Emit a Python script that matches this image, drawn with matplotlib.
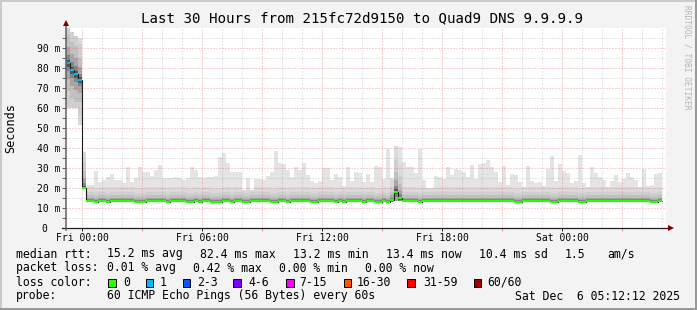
import numpy as np
import matplotlib.pyplot as plt
from matplotlib.patches import Rectangle

W, H = 697, 310
plt.rcParams['font.family'] = 'DejaVu Sans Mono'

# 12-minute bins, hours counted from Fri 00:00
bin_start = -0.8
bin_hours = 0.2

# highest ping in each bin, ms
top_ms = [
    100.0, 98.0, 96.0, 95.0,
    38.0, 21.5, 21.5, 28.5, 23.2, 24.0, 25.7, 27.0, 24.0, 24.0,
    22.7, 30.7, 23.2, 24.8, 30.7, 28.2, 27.8, 26.0, 29.0, 31.5,
    24.8, 24.8, 24.8, 25.7, 24.8, 24.0, 24.8, 30.3, 29.0, 25.7,
    24.8, 25.7, 25.7, 26.2, 35.7, 37.7, 32.7, 28.2, 28.2, 28.2,
    19.0, 25.2, 19.0, 24.5, 24.5, 24.0, 26.0, 28.2, 38.7, 32.3,
    32.0, 29.0, 25.7, 30.3, 29.0, 32.7, 26.5, 23.7, 22.3, 23.7,
    29.8, 30.2, 24.0, 27.0, 25.7, 21.0, 30.3, 23.7, 28.2, 27.3,
    23.2, 27.0, 23.2, 31.0, 30.7, 24.3, 39.5, 24.8, 41.0, 40.3,
    33.0, 30.3, 30.3, 27.7, 39.5, 24.0, 19.8, 19.8, 26.0, 25.7,
    24.3, 30.3, 26.5, 29.3, 29.0, 28.2, 25.7, 31.5, 24.3, 32.0,
    32.7, 34.0, 30.3, 28.2, 23.2, 31.0, 21.5, 27.0, 26.5, 23.2,
    20.3, 31.0, 23.5, 22.3, 23.2, 21.2, 29.5, 36.0, 23.5, 32.0,
    28.5, 27.3, 22.7, 23.7, 36.5, 22.7, 20.3, 30.3, 27.7, 25.7,
    24.0, 20.3, 23.5, 26.5, 22.8, 24.3, 27.7, 25.7, 24.0, 20.3,
    29.3, 21.0, 21.5, 27.0, 27.3,
]

# median rtt per bin, ms
median_ms = [
    82.4, 79.0, 76.8, 74.0, 20.0, 13.5, 13.5, 13.0, 13.5, 13.5,
    13.0, 13.5, 13.5, 13.5, 13.5, 13.5, 13.5, 13.0, 13.0, 13.0,
    13.5, 13.5, 13.5, 13.5, 13.5, 13.0, 13.5, 13.5, 13.5, 13.5,
    13.0, 13.0, 13.5, 13.0, 13.5, 13.5, 13.0, 13.0, 13.0, 13.5,
    13.5, 13.0, 13.5, 13.5, 13.0, 13.0, 13.5, 13.5, 13.5, 13.5,
    13.5, 13.0, 13.0, 13.5, 13.5, 13.0, 13.5, 13.5, 13.5, 13.5,
    13.5, 13.0, 13.0, 13.5, 13.5, 13.5, 13.5, 13.0, 13.5, 13.0,
    13.5, 13.5, 13.5, 13.5, 13.0, 13.5, 13.5, 13.0, 13.0, 13.5,
    13.0, 14.0, 18.2, 14.8, 13.5, 13.5, 13.5, 13.5, 13.0, 13.5,
    13.5, 13.5, 13.5, 13.5, 13.5, 13.5, 13.5, 13.5, 13.5, 13.5,
    13.5, 13.5, 13.5, 13.5, 13.5, 13.5, 13.5, 13.5, 13.5, 13.5,
    13.5, 13.5, 13.0, 13.0, 13.5, 13.5, 13.5, 13.5, 13.5, 13.5,
    13.5, 13.0, 13.0, 13.5, 13.5, 13.5, 13.5, 13.5, 13.0, 13.0,
    13.5, 13.5, 13.5, 13.5, 13.5, 13.5, 13.5, 13.5, 13.5, 13.5,
    13.5, 13.5, 13.5, 13.5, 13.5, 13.5, 13.0, 13.0, 13.5,
]

# bins with lost pings (all others 0)
lost_pings = {0: 1, 1: 1, 2: 1, 3: 1}
# lowest ping where it is not just under the median
low_ms = {0: 60.0, 1: 60.0, 2: 60.0, 3: 51.5, 4: 19.6, 81: 13.2, 82: 13.5, 83: 13.5}
# how wide the dark core of the smoke is
spread = {0: 5, 1: 5, 2: 5, 3: 4, 4: 3, 81: 1.5, 82: 3.5, 83: 2.5}

x_ticks = [0, 6, 12, 18, 24]
x_labels = ['Fri 00:00', 'Fri 06:00', 'Fri 12:00', 'Fri 18:00', 'Sat 00:00']
y_ticks = [0, 10, 20, 30, 40, 50, 60, 70, 80, 90]
y_labels = ['0  ', '10 m', '20 m', '30 m', '40 m', '50 m', '60 m', '70 m', '80 m', '90 m']

loss_names = ['0', '1', '2-3', '4-6', '7-15', '16-30', '31-59', '60/60']
loss_colors = ['#26ff00', '#00b8ff', '#0059ff', '#7e00ff', '#ff00ff', '#ff5500', '#ff0000', '#a10000']


def fx(x):
    return x / W


def fy(y):
    return 1 - y / H


fig = plt.figure(figsize=(W / 100, H / 100), dpi=100, facecolor='#f3f3f3')
ax = fig.add_axes([fx(66), fy(228), 600 / W, 200 / H])
ax.set_facecolor('white')

n = len(median_ms)
edges = bin_start + bin_hours * np.arange(n + 1)
centers = edges[:-1] + bin_hours / 2
med = np.array(median_ms)
top = np.array(top_ms)
low = np.array([low_ms.get(i, m - 0.7) for i, m in enumerate(median_ms)])
spr = np.array([spread.get(i, 1) for i in range(n)])

# smoke: outer band light, inner bands darker
shades = [(None, '#e4e4e4'), (7.0, '#dadada'), (4.5, '#cfcfcf'), (2.8, '#c0c0c0'),
          (1.6, '#a6a6a6'), (0.8, '#858585'), (0.35, '#555555')]
for off, col in shades:
    if off is None:
        lo, hi = low, top
    else:
        lo = np.maximum(low, med - off * spr)
        hi = np.minimum(top, med + off * spr)
    ax.bar(centers, hi - lo, bottom=lo, width=bin_hours, color=col, linewidth=0, zorder=1)

# dotted grid
red = (0.87, 0.31, 0.31, 0.5)
grey = (0.5, 0.5, 0.5, 0.4)
for h in range(0, 30):
    ax.axvline(h, color=red if h % 3 == 0 else grey, lw=0.72, ls=(0, (1, 2)), zorder=2)
for v in range(5, 100, 5):
    ax.axhline(v, color=red if v % 10 == 0 else grey, lw=0.72, ls=(0, (1, 2)), zorder=2)

# median line: black steps, loss coloured levels
ax.stairs(med, edges, baseline=None, color='#1a1a1a', lw=0.8, zorder=3)
seg_colors = [loss_colors[lost_pings.get(i, 0)] for i in range(n)]
ax.hlines(med, edges[:-1], edges[1:], colors=seg_colors, lw=1.5, zorder=4)

ax.set_xlim(-0.8, 29.2)
ax.set_ylim(0, 100)
for s in ax.spines.values():
    s.set_visible(False)

# axes with arrows
ax.plot([-1.0, 29.4], [0, 0], color='#202020', lw=0.9, clip_on=False, zorder=5)
ax.plot([-0.8, -0.8], [-1.0, 102.0], color='#606060', lw=1.1, clip_on=False, zorder=5)
ax.plot([29.45], [0], marker='>', color='#7f0000', ms=4.5, mew=0, clip_on=False, zorder=6)
ax.plot([-0.8], [102.5], marker='^', color='#7f0000', ms=4.5, mew=0, clip_on=False, zorder=6)

ax.set_xticks(x_ticks, x_labels)
ax.set_xticks(range(3, 30, 3), minor=True)
ax.tick_params(axis='x', which='major', length=2, width=0.7, color='#303030', pad=1.5, labelsize=7)
ax.tick_params(axis='x', which='minor', length=2, width=0.7, color='#e09090')
ax.set_yticks(y_ticks, y_labels)
ax.set_yticks(range(5, 100, 10), minor=True)
ax.tick_params(axis='y', which='both', length=3, width=0.7, color='#606060', pad=1.3, labelsize=7)

fig.text(fx(362), fy(18), 'Last 30 Hours from 215fc72d9150 to Quad9 DNS 9.9.9.9',
         ha='center', va='center', fontsize=10.2)
fig.text(fx(11), fy(128), 'Seconds', rotation=90, ha='center', va='center', fontsize=8.5)
fig.text(fx(687), fy(57), 'RRDTOOL / TOBI OETIKER', rotation=270, ha='center', va='center',
         fontsize=5.7, color='#b4b4b4')

fs = 8.3
row1 = [(16, 'median rtt:'), (107, '15.2 ms avg'), (200, '82.4 ms max'), (293, '13.2 ms min'),
        (386, '13.4 ms now'), (479, '10.4 ms sd'), (565, '1.5'), (607, 'am/s')]
row2 = [(16, 'packet loss:'), (107, '0.01 % avg'), (193, '0.42 % max'), (279, '0.00 % min'),
        (365, '0.00 % now')]
for x, s in row1:
    fig.text(fx(x), fy(254), s, ha='left', va='center', fontsize=fs)
for x, s in row2:
    fig.text(fx(x), fy(268), s, ha='left', va='center', fontsize=fs)

fig.text(fx(16), fy(282), 'loss color:', ha='left', va='center', fontsize=fs)
box_x = [108, 145.5, 182.5, 233, 286, 343.5, 407.5, 473.5]
label_x = [123, 160, 197, 248, 299, 357, 423, 487]
for bx, lx, name, col in zip(box_x, label_x, loss_names, loss_colors):
    fig.add_artist(Rectangle((fx(bx), fy(286.5)), 7.5 / W, 8 / H, transform=fig.transFigure,
                             facecolor=col, edgecolor='black', lw=0.7))
    fig.text(fx(lx), fy(282), name, ha='left', va='center', fontsize=fs)

fig.text(fx(16), fy(296), 'probe:', ha='left', va='center', fontsize=fs)
fig.text(fx(107), fy(296), '60 ICMP Echo Pings (56 Bytes) every 60s', ha='left', va='center', fontsize=fs)
fig.text(fx(680), fy(296), 'Sat Dec  6 05:12:12 2025', ha='right', va='center', fontsize=fs)

# 3d frame
fig.add_artist(Rectangle((0, 1 - 2 / H), 1, 2 / H, transform=fig.transFigure, color='#cbcbcb', lw=0))
fig.add_artist(Rectangle((0, 0), 2 / W, 1, transform=fig.transFigure, color='#cbcbcb', lw=0))
fig.add_artist(Rectangle((0, 0), 1, 2 / H, transform=fig.transFigure, color='#999999', lw=0))
fig.add_artist(Rectangle((1 - 2 / W, 0), 2 / W, 1, transform=fig.transFigure, color='#999999', lw=0))

fig.savefig('out.png', dpi=100, facecolor=fig.get_facecolor())
